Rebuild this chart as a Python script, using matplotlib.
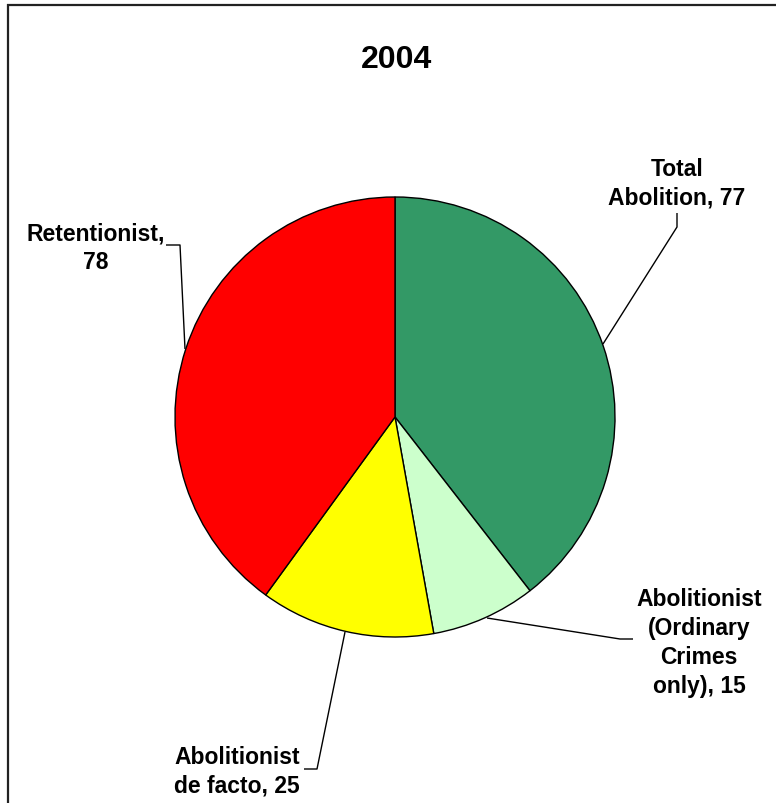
import matplotlib
matplotlib.use("Agg")
import matplotlib.pyplot as plt

categories = ["Total Abolition", "Abolitionist (Ordinary Crimes only)",
              "Abolitionist de facto", "Retentionist"]
values = [77, 15, 25, 78]
colors = ["#339966", "#CCFFCC", "#FFFF00", "#FF0000"]
labels = ["Total\nAbolition, 77", "Abolitionist\n(Ordinary\nCrimes\nonly), 15",
          "Abolitionist\nde facto, 25", "Retentionist,\n78"]
title = "2004"

W, H = 776, 804
fig = plt.figure(figsize=(W / 100, H / 100), dpi=100)
ax = fig.add_axes([0, 0, 1, 1])

def Y(y):
    return H - y

cx, cy, r = 395, 418, 220
ax.pie(values, colors=colors, startangle=90, counterclock=False,
       center=(cx, Y(cy)), radius=r, frame=True,
       wedgeprops=dict(edgecolor="black", linewidth=1.0))
ax.set_xlim(0, W)
ax.set_ylim(0, H)
ax.set_aspect("equal")
ax.axis("off")

font = dict(family=["Liberation Sans", "DejaVu Sans"], fontweight="bold", color="black")

ax.text(396, Y(60), title, ha="center", va="center", fontsize=23, **font)

label_pos = [(677, 184), (699, 643), (237, 772), (96, 248)]
for (lx, ly), lab in zip(label_pos, labels):
    ax.text(lx, Y(ly), lab, ha="center", va="center", multialignment="center",
            fontsize=16.5, linespacing=1.33, **font)

leaders = [
    [(677, 214), (677, 228), (603, 345)],
    [(487, 619), (620, 640), (633, 640)],
    [(345, 633), (317, 770), (304, 770)],
    [(166, 246), (180, 246), (185, 350)],
]
for pts in leaders:
    xs = [p[0] for p in pts]
    ys = [Y(p[1]) for p in pts]
    ax.plot(xs, ys, color="black", lw=1.0, solid_capstyle="butt")

# outer frame (top and left edges visible)
ax.plot([7, W], [Y(5.5), Y(5.5)], color="#222222", lw=1.6, solid_capstyle="butt")
ax.plot([7.5, 7.5], [Y(5), 0], color="#222222", lw=1.6, solid_capstyle="butt")

fig.savefig("out.png", dpi=100)
